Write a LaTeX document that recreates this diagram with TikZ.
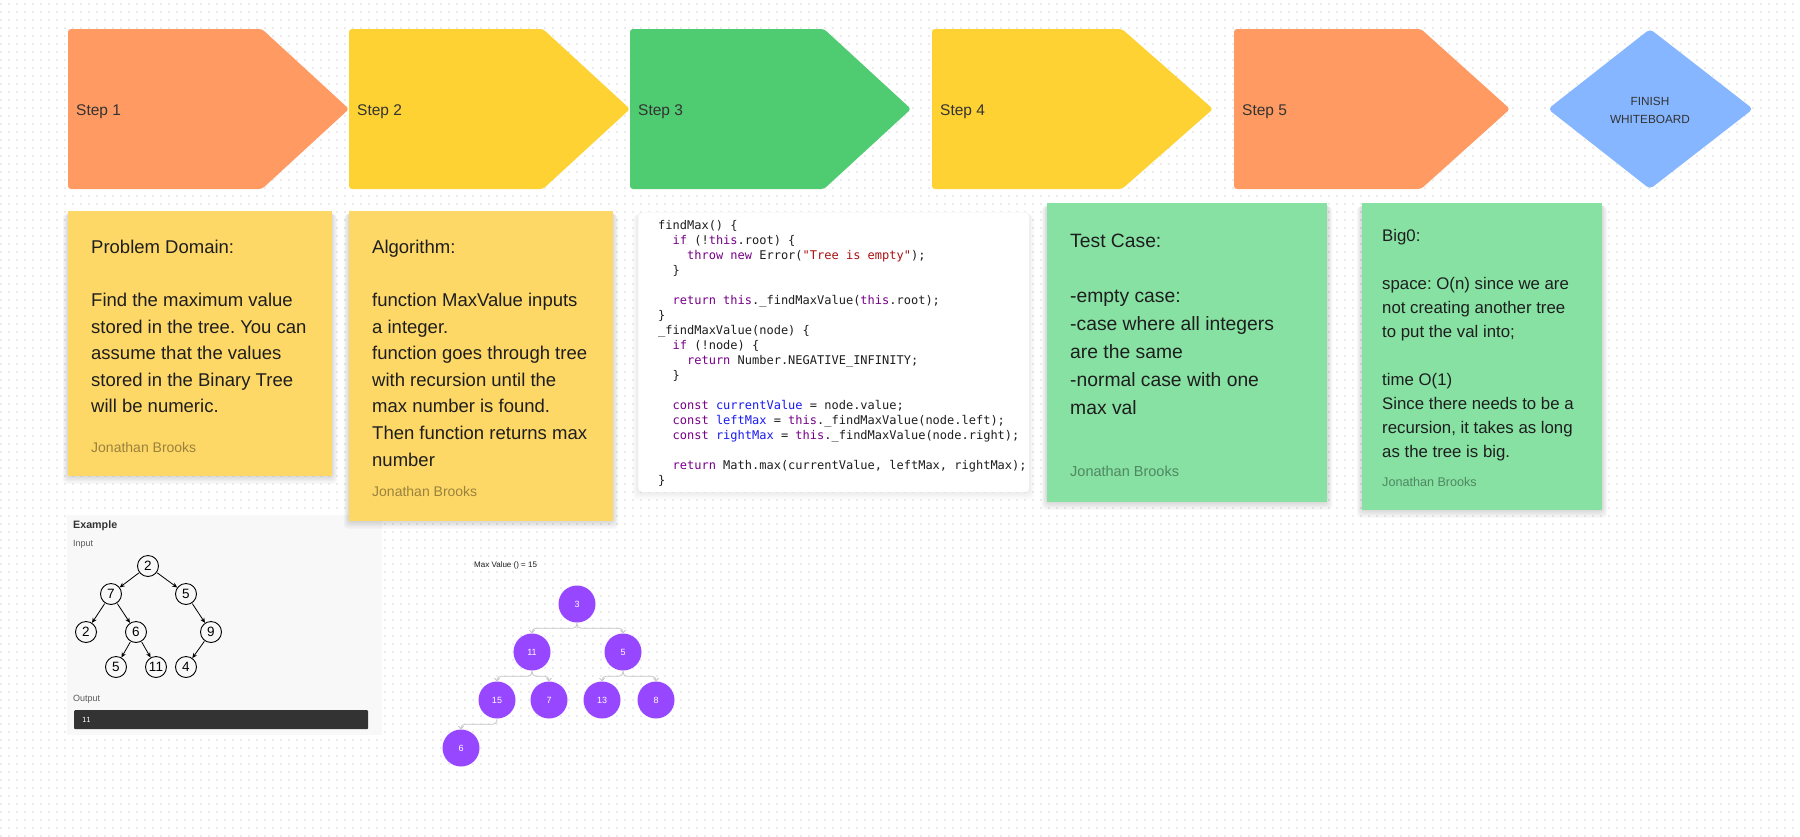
\documentclass[tikz,border=0pt]{standalone}
\usepackage{fontspec}
\setmainfont{Liberation Sans}
\newfontfamily\codefont{DejaVu Sans Mono}
\usetikzlibrary{arrows.meta}
\frenchspacing
\definecolor{cOrange}{HTML}{FF9B62}
\definecolor{cYellow}{HTML}{FED233}
\definecolor{cGreen}{HTML}{4FCB71}
\definecolor{cBlue}{HTML}{85B6FF}
\definecolor{stickyY}{HTML}{FED866}
\definecolor{stickyG}{HTML}{86E1A3}
\definecolor{txt}{HTML}{1E1E1E}
\definecolor{labc}{HTML}{333333}
\definecolor{kwcol}{HTML}{770088}
\definecolor{strcol}{HTML}{AA1111}
\definecolor{defcol}{HTML}{1A1AF0}
\definecolor{purp}{HTML}{9747FF}
\definecolor{dotc}{HTML}{EBEBEB}
\definecolor{panel}{HTML}{F8F8F8}
\definecolor{outbar}{HTML}{333333}
\definecolor{connc}{HTML}{C6C6C6}
\newcommand\kwc[1]{\textcolor{kwcol}{#1}}
\newcommand\dfc[1]{\textcolor{defcol}{#1}}
\newcommand\stc[1]{\textcolor{strcol}{#1}}
\newcommand\ind[1]{\hspace*{#1pt}}
\newcommand\fs[2]{\fontsize{#1}{#2}\selectfont}
% soft shadow under a box: x0 y0 x1 y1 opacity
\newcommand\softshadow[5]{%
  \foreach \k in {1,...,6}{%
    \fill[black, opacity=#5, rounded corners=4pt] ({#1-\k*0.9},{#2+\k*0.6}) rectangle ({#3+\k*0.9},{#4+\k*1.3});}%
}
\tikzset{
  stepshape/.style={rounded corners=3pt},
  steplabel/.style={anchor=base west, inner sep=0pt, text=labc, font=\fs{15.5}{18}},
  sticky/.style={anchor=north west, inner sep=0pt},
  stickytext/.style={anchor=north west, inner sep=0pt, align=left, text=txt},
  author/.style={anchor=base west, inner sep=0pt, text=black, text opacity=0.4},
  plain/.style={anchor=base west, inner sep=0pt},
  bt/.style={circle, draw=black, line width=0.9pt, minimum size=21pt, inner sep=0pt, fill=panel, font=\fs{13.5}{13.5}},
  btedge/.style={-{Stealth[length=5pt,width=4.5pt]}, line width=0.8pt, shorten <=0.5pt},
  pn/.style={circle, fill=purp, minimum size=37pt, inner sep=0pt, text=white, font=\fs{9}{9}},
  pconn/.style={draw=connc, line width=0.8pt, rounded corners=4pt, -{Straight Barb[length=2.5pt,width=5pt]}}
}
\begin{document}
\begin{tikzpicture}[x=1pt,y=-1pt]
\useasboundingbox (0,0) rectangle (1800,836);
\fill[white] (0,0) rectangle (1800,836);
\foreach \j in {0,...,104}{\draw[dotc, line width=2pt, dash pattern=on 2pt off 6pt] (0,{4+8*\j}) -- (1800,{4+8*\j});}

% steps
\fill[cOrange, stepshape] (68,29) -- (262,29) -- (349,109) -- (262,189) -- (68,189) -- cycle;
\node[steplabel] (s1) at (76,115) {Step 1};
\fill[cYellow, stepshape] (349,29) -- (543,29) -- (630,109) -- (543,189) -- (349,189) -- cycle;
\node[steplabel] (s2) at (357,115) {Step 2};
\fill[cGreen, stepshape] (630,29) -- (824,29) -- (911,109) -- (824,189) -- (630,189) -- cycle;
\node[steplabel] (s3) at (638,115) {Step 3};
\fill[cYellow, stepshape] (932,29) -- (1122,29) -- (1213,109) -- (1122,189) -- (932,189) -- cycle;
\node[steplabel] (s4) at (940,115) {Step 4};
\fill[cOrange, stepshape] (1234,29) -- (1421,29) -- (1510,109) -- (1421,189) -- (1234,189) -- cycle;
\node[steplabel] (s5) at (1242,115) {Step 5};
\fill[cBlue, rounded corners=4pt] (1548,109) -- (1650,29) -- (1753,109) -- (1650,189) -- cycle;
\node[font=\fs{11.8}{18}, align=center, text=labc, inner sep=0pt] (finish) at (1650,110) {FINISH\\WHITEBOARD};

% example panel
\node[fill=panel, minimum width=315pt, minimum height=220pt, anchor=north west, inner sep=0pt] (ex) at (67,515) {};
\node[plain, font=\bfseries\fs{10.7}{12}, text=labc] (extitle) at (73,528) {Example};
\node[plain, font=\fs{9}{10}, text=black!65] (exin) at (73,546.5) {Input};
\node[plain, font=\fs{9}{10}, text=black!65] (exout) at (73,701.5) {Output};
\node[fill=outbar, minimum width=294pt, minimum height=19pt, anchor=north west, inner sep=0pt, rounded corners=1pt] (outbarnode) at (74,710) {};
\node[anchor=west, text=white, font=\codefont\fs{7}{7}, inner sep=0pt] (outval) at (82,719.5) {11};
\node[bt] (r) at (148,566) {2};
\node[bt] (a7) at (111,594) {7};
\node[bt] (a5) at (186,594) {5};
\node[bt] (b2) at (86,632) {2};
\node[bt] (b6) at (136,632) {6};
\node[bt] (b9) at (211,632) {9};
\node[bt] (c5) at (116,667) {5};
\node[bt] (c11) at (156,667) {11};
\node[bt] (c4) at (186,667) {4};
\draw[btedge] (r) -- (a7);
\draw[btedge] (r) -- (a5);
\draw[btedge] (a7) -- (b2);
\draw[btedge] (a7) -- (b6);
\draw[btedge] (a5) -- (b9);
\draw[btedge] (b6) -- (c5);
\draw[btedge] (b6) -- (c11);
\draw[btedge] (b9) -- (c4);

% sticky notes
\softshadow{68}{211}{332}{476}{0.022}
\node[sticky, fill=stickyY, minimum width=264pt, minimum height=265pt] (pd) at (68,211) {};
\node[stickytext, font=\fs{18.5}{26.6}] (pdtext) at (91,238.5) {\rule{0pt}{14.5pt}Problem Domain:\\[26.6pt]
Find the maximum value\\
stored in the tree. You can\\
assume that the values\\
stored in the Binary Tree\\
will be numeric.};
\node[author, font=\fs{14}{16}] (pdauth) at (91,452) {Jonathan Brooks};

\softshadow{349}{211}{613}{521}{0.022}
\node[sticky, fill=stickyY, minimum width=264pt, minimum height=310pt] (alg) at (349,211) {};
\node[stickytext, font=\fs{18.5}{26.6}] (algtext) at (372,238.5) {\rule{0pt}{14.5pt}Algorithm:\\[26.6pt]
function MaxValue inputs\\
a integer.\\
function goes through tree\\
with recursion until the\\
max number is found.\\
Then function returns max\\
number};
\node[author, font=\fs{14}{16}] (algauth) at (372,496) {Jonathan Brooks};

\softshadow{638}{212}{1029}{492}{0.012}
\node[sticky, fill=white, draw=black!6, rounded corners=4pt, minimum width=391pt, minimum height=280pt] (code) at (638,212) {};
\node[stickytext, font=\codefont\fs{12}{15}, text=txt] (codetext) at (658,219) {\rule{0pt}{10pt}findMax() \{\\
\ind{14.45}\kwc{if} (!\kwc{this}.root) \{\\
\ind{28.9}\kwc{throw} \kwc{new} Error(\stc{"Tree is empty"});\\
\ind{14.45}\}\\[15pt]
\ind{14.45}\kwc{return} \kwc{this}.\_findMaxValue(\kwc{this}.root);\\
\}\\
\_findMaxValue(node) \{\\
\ind{14.45}\kwc{if} (!node) \{\\
\ind{28.9}\kwc{return} Number.NEGATIVE\_INFINITY;\\
\ind{14.45}\}\\[15pt]
\ind{14.45}\kwc{const} \dfc{currentValue} = node.value;\\
\ind{14.45}\kwc{const} \dfc{leftMax} = \kwc{this}.\_findMaxValue(node.left);\\
\ind{14.45}\kwc{const} \dfc{rightMax} = \kwc{this}.\_findMaxValue(node.right);\\[15pt]
\ind{14.45}\kwc{return} Math.max(currentValue, leftMax, rightMax);\\
\}};

\softshadow{1047}{203}{1327}{502}{0.022}
\node[sticky, fill=stickyG, minimum width=280pt, minimum height=299pt] (tc) at (1047,203) {};
\node[stickytext, font=\fs{19.3}{27.8}] (tctext) at (1070,232) {\rule{0pt}{15pt}Test Case:\\[27.8pt]
-empty case:\\
-case where all integers\\
are the same\\
-normal case with one\\
max val};
\node[author, font=\fs{14.5}{16}] (tcauth) at (1070,476) {Jonathan Brooks};

\softshadow{1362}{203}{1602}{510}{0.022}
\node[sticky, fill=stickyG, minimum width=240pt, minimum height=307pt] (bo) at (1362,203) {};
\node[stickytext, font=\fs{16.8}{24}] (botext) at (1382,228.5) {\rule{0pt}{13pt}Big0:\\[24pt]
space: O(n) since we are\\
not creating another tree\\
to put the val into;\\[24pt]
time O(1)\\
Since there needs to be a\\
recursion, it takes as long\\
as the tree is big.};
\node[author, font=\fs{12.6}{14}] (boauth) at (1382,486) {Jonathan Brooks};

% purple tree
\node[plain, font=\fs{8}{9}, text=txt] (mvlabel) at (474,567) {Max Value () = 15};
\node[pn] (p3) at (577,604) {3};
\node[pn] (p11) at (532,652) {11};
\node[pn] (p5) at (623,652) {5};
\node[pn] (p15) at (497,700) {15};
\node[pn] (p7) at (549,700) {7};
\node[pn] (p13) at (602,700) {13};
\node[pn] (p8) at (656,700) {8};
\node[pn] (p6) at (461,748) {6};
\draw[pconn] (p3.south) -- ++(0,5.5) -| (p11.north);
\draw[pconn] (p3.south) -- ++(0,5.5) -| (p5.north);
\draw[pconn] (p11.south) -- ++(0,5.5) -| (p15.north);
\draw[pconn] (p11.south) -- ++(0,5.5) -| (p7.north);
\draw[pconn] (p5.south) -- ++(0,5.5) -| (p13.north);
\draw[pconn] (p5.south) -- ++(0,5.5) -| (p8.north);
\draw[pconn] (p15.south) -- ++(0,5.5) -| (p6.north);
\end{tikzpicture}
\end{document}
